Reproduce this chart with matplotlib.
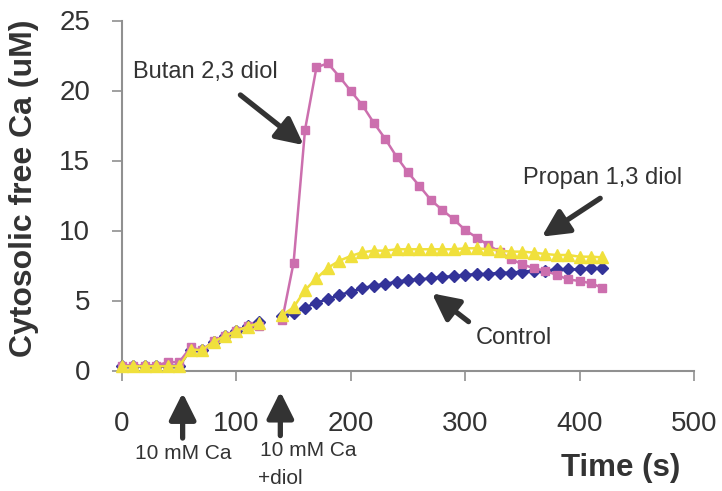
import numpy as np
import matplotlib.pyplot as plt

plt.rcParams['font.family'] = ['Liberation Sans', 'DejaVu Sans']

# time points (s); NaN marks the gap while solution was added
time = [0, 10, 20, 30, 40, 50, 60, 70, 80, 90, 100, 110, 120, np.nan,
        140, 150, 160, 170, 180, 190, 200, 210, 220, 230, 240, 250, 260, 270, 280,
        290, 300, 310, 320, 330, 340, 350, 360, 370, 380, 390, 400, 410, 420]

control = [0.3, 0.3, 0.3, 0.3, 0.3, 0.3, 1.5, 1.45, 2.05, 2.45, 2.85, 3.15, 3.45, np.nan,
           3.9, 4.08, 4.5, 4.84, 5.1, 5.39, 5.63, 5.87, 6.06, 6.18, 6.35, 6.46, 6.51, 6.58, 6.7,
           6.72, 6.82, 6.89, 6.89, 6.99, 6.99, 7.06, 7.13, 7.13, 7.23, 7.23, 7.23, 7.3, 7.3]

butan = [0.35, 0.35, 0.35, 0.35, 0.6, 0.6, 1.65, 1.45, 2.1, 2.5, 2.85, 3.15, 3.2, np.nan,
         3.6, 7.7, 17.2, 21.66, 21.94, 20.99, 19.96, 18.96, 17.7, 16.56, 15.27, 14.15, 13.18, 12.18, 11.46,
         10.8, 10.03, 9.5, 8.96, 8.49, 7.96, 7.58, 7.3, 7.13, 6.82, 6.51, 6.39, 6.23, 5.91]

propan = [0.3, 0.3, 0.3, 0.3, 0.3, 0.3, 1.5, 1.45, 2.06, 2.46, 2.84, 3.13, 3.4, np.nan,
          3.96, 4.51, 5.75, 6.58, 7.34, 7.84, 8.18, 8.44, 8.56, 8.56, 8.66, 8.66, 8.66, 8.66, 8.66,
          8.66, 8.73, 8.73, 8.66, 8.56, 8.49, 8.49, 8.42, 8.32, 8.25, 8.25, 8.13, 8.13, 8.08]

fig = plt.figure(figsize=(7.22, 4.91), dpi=100)
ax = fig.add_axes([122/722, 1 - 370.5/491, 572/722, 350/491])

ax.plot(time, control, color='#333399', marker='D', markersize=6, lw=1.8, clip_on=False, zorder=3)
ax.plot(time, butan, color='#CC6FAE', marker='s', markersize=5.5, lw=1.8, clip_on=False, zorder=4)
ax.plot(time, propan, color='#F0E03C', marker='^', markersize=8, lw=1.8, clip_on=False, zorder=5)

ax.set_xlim(0, 500)
ax.set_ylim(0, 25)
ax.set_xticks([0, 100, 200, 300, 400, 500])
ax.set_yticks([0, 5, 10, 15, 20, 25])

for s in ['top', 'right']:
    ax.spines[s].set_visible(False)
for s in ['left', 'bottom']:
    ax.spines[s].set_color('#909090')
    ax.spines[s].set_linewidth(1.5)
ax.tick_params(direction='out', length=7, width=1.2, color='#909090',
               labelsize=20, labelcolor='#333333')
ax.tick_params(axis='x', pad=22)
ax.tick_params(axis='y', pad=16)

fig.text(24/722, 1 - 188/491, 'Cytosolic free Ca (uM)', rotation=90, fontsize=23,
         fontweight='bold', color='#333333', ha='center', va='center')
fig.text(621/722, 1 - 468/491, 'Time (s)', fontsize=22.5, fontweight='bold',
         color='#333333', ha='center', va='center')

arrow = dict(arrowstyle='-|>,head_length=0.9,head_width=0.45', lw=3.8,
             color='#333333', shrinkA=0, shrinkB=0, mutation_scale=18)

ax.annotate('', xy=(158.8, 16.1), xytext=(103.5, 19.68), arrowprops=arrow)
ax.text(73, 21.3, 'Butan 2,3 diol', fontsize=17, color='#333333', ha='center', va='center')

ax.annotate('', xy=(367, 9.56), xytext=(418, 12.3), arrowprops=arrow)
ax.text(420.5, 13.75, 'Propan 1,3 diol', fontsize=17, color='#333333', ha='center', va='center')

ax.annotate('', xy=(270.9, 5.51), xytext=(302.9, 3.49), arrowprops=arrow)
ax.text(342.8, 2.32, 'Control', fontsize=17, color='#333333', ha='center', va='center')

# additions below the time axis
tr = ('data', 'axes fraction')
ax.annotate('', xy=(53, -0.064), xytext=(53, -0.193), xycoords=tr, textcoords=tr,
            arrowprops=arrow, annotation_clip=False)
ax.annotate('', xy=(138.4, -0.06), xytext=(138.4, -0.186), xycoords=tr, textcoords=tr,
            arrowprops=arrow, annotation_clip=False)
ax.text(53.5, -0.237, '10 mM Ca', transform=ax.get_xaxis_transform(), fontsize=15,
        color='#333333', ha='center', va='center')
ax.text(162.6, -0.229, '10 mM Ca', transform=ax.get_xaxis_transform(), fontsize=15,
        color='#333333', ha='center', va='center')
ax.text(138.4, -0.31, '+diol', transform=ax.get_xaxis_transform(), fontsize=15,
        color='#333333', ha='center', va='center')

fig.savefig('out.png', dpi=100)
